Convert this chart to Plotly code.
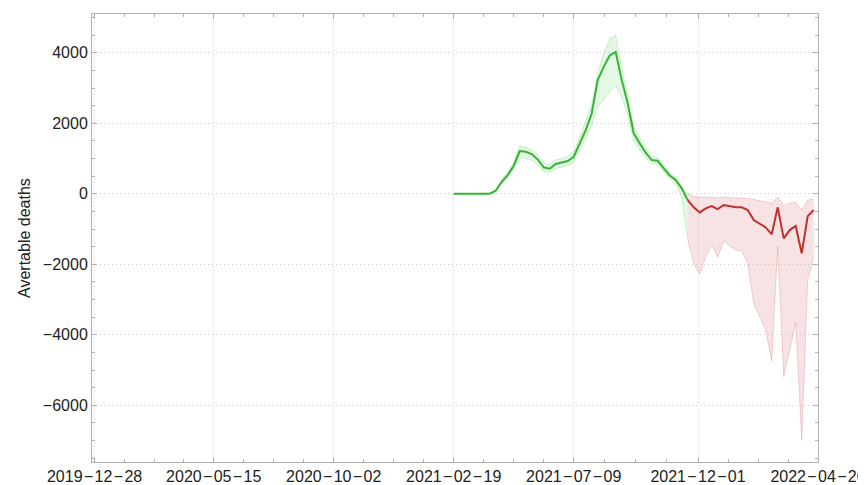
import pandas as pd
import plotly.graph_objects as go

# ---- data ----
start = "2021-02-19"
green_vals = [0, 0, 0, 0, 0, 0, 0, 85, 340, 530, 795, 1210, 1190, 1125, 975, 750, 710,
              845, 880, 930, 1050, 1430, 1805, 2280, 3225, 3600, 3925, 4020, 3225, 2565,
              1715, 1430, 1165, 955, 935, 720, 520, 390, 155, -180]
green_hi = [0, 0, 0, 0, 0, 0, 0, 110, 400, 600, 900, 1350, 1330, 1250, 1100, 880, 830,
            960, 1000, 1070, 1200, 1600, 2050, 2550, 3420, 3980, 4400, 4500, 3550, 2800,
            1900, 1580, 1300, 1060, 1030, 800, 590, 450, 250, -40]
green_lo = [0, 0, 0, 0, 0, 0, 0, 60, 290, 470, 700, 1050, 1000, 950, 820, 620, 600,
            720, 750, 800, 900, 1250, 1550, 1950, 2470, 2660, 2890, 3085, 2750, 2250,
            1500, 1250, 1020, 850, 830, 620, 430, 300, -90, -1270]

red_vals = [-180, -385, -530, -415, -350, -435, -320, -350, -385, -385, -460, -745,
            -860, -955, -1150, -385, -1265, -1030, -915, -1690, -635, -460]
red_hi = [0, -80, -100, -110, -110, -110, -100, -105, -110, -115, -130, -160,
          -200, -240, -270, -90, -330, -260, -240, -460, -180, -150]
red_lo = [-1300, -1975, -2280, -1790, -1455, -1805, -1335, -1485, -1600, -1620, -1975,
          -3110, -3490, -3870, -4740, -1505, -5190, -4435, -3660, -6990, -2450, -1790]

tick_dates = ["2019-12-28", "2020-05-15", "2020-10-02", "2021-02-19",
              "2021-07-09", "2021-12-01", "2022-04-20"]
tick_text = [d.replace("-", "\u200a\u2212\u200a") for d in tick_dates]

dates_all = pd.date_range(start, periods=len(green_vals) + len(red_vals) - 1, freq="7D")
g_dates = dates_all[:len(green_vals)]
r_dates = dates_all[len(green_vals) - 1:]

# minor ticks at quarter intervals between major ticks
td = pd.to_datetime(tick_dates)
minor_vals = []
for a, b in zip(td[:-1], td[1:]):
    for k in (1, 2, 3):
        minor_vals.append(a + (b - a) * k / 4)

G_LINE = "#35b535"
R_LINE = "#c12f2f"
G_FILL = "rgba(70,200,70,0.14)"
R_FILL = "rgba(200,70,70,0.15)"
G_EDGE = "rgba(70,200,70,0.25)"
R_EDGE = "rgba(200,70,70,0.22)"

fig = go.Figure()
fig.add_trace(go.Scatter(x=g_dates, y=green_lo, mode="lines",
                         line=dict(color=G_EDGE, width=1), showlegend=False, hoverinfo="skip"))
fig.add_trace(go.Scatter(x=g_dates, y=green_hi, mode="lines", fill="tonexty", fillcolor=G_FILL,
                         line=dict(color=G_EDGE, width=1), showlegend=False, hoverinfo="skip"))
fig.add_trace(go.Scatter(x=r_dates, y=red_lo, mode="lines",
                         line=dict(color=R_EDGE, width=1), showlegend=False, hoverinfo="skip"))
fig.add_trace(go.Scatter(x=r_dates, y=red_hi, mode="lines", fill="tonexty", fillcolor=R_FILL,
                         line=dict(color=R_EDGE, width=1), showlegend=False, hoverinfo="skip"))
fig.add_trace(go.Scatter(x=g_dates, y=green_vals, mode="lines",
                         line=dict(color=G_LINE, width=2), showlegend=False))
fig.add_trace(go.Scatter(x=r_dates, y=red_vals, mode="lines",
                         line=dict(color=R_LINE, width=2), showlegend=False))

axis_common = dict(showline=True, linecolor="#b0b0b0", linewidth=1, mirror="ticks",
                   ticks="inside", tickcolor="#b0b0b0", ticklen=5, tickwidth=1,
                   showgrid=True, gridcolor="#cfcfcf", griddash="1px,3px", gridwidth=1,
                   zeroline=False, automargin=False,
                   tickfont=dict(family="Liberation Sans, Arial", size=16, color="#222"))

# the page body adds an 8px offset; margins compensate for it
fig.update_layout(
    width=866, height=485,
    margin=dict(l=84, r=56, t=6, b=31),
    paper_bgcolor="white", plot_bgcolor="white",
    xaxis=dict(type="date", range=["2019-12-25", "2022-04-20"],
               tickmode="array", tickvals=tick_dates, ticktext=tick_text,
               minor=dict(tickmode="array", tickvals=minor_vals, ticks="inside",
                          ticklen=3, tickcolor="#b0b0b0", showgrid=False),
               **axis_common),
    yaxis=dict(range=[-7610, 5100], tickmode="linear", tick0=0, dtick=2000,
               minor=dict(dtick=500, ticks="inside", ticklen=3, tickcolor="#b0b0b0",
                          showgrid=False),
               **axis_common),
    annotations=[dict(text="Avertable deaths", xref="paper", yref="paper",
                      x=-0.0937, y=0.5, xanchor="center", yanchor="middle",
                      textangle=-90, showarrow=False,
                      font=dict(family="Liberation Sans, Arial", size=16, color="#222"))],
)

fig.write_html("out.html")
